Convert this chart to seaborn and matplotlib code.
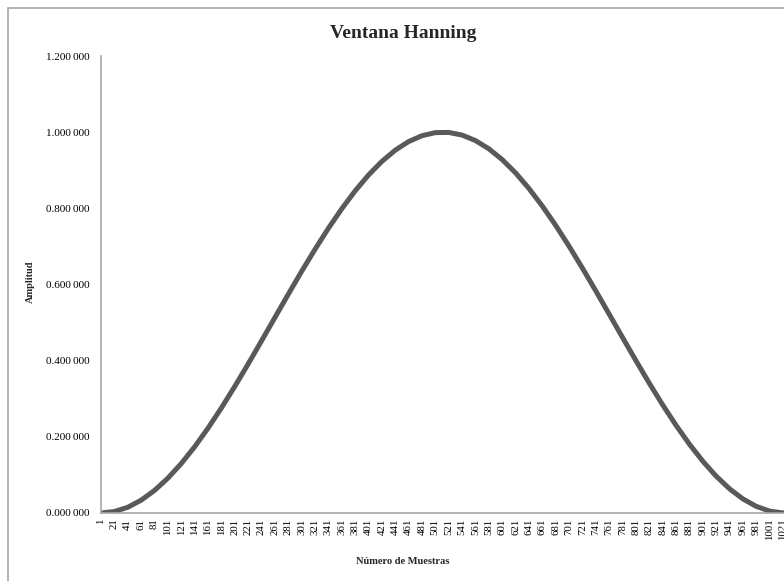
import matplotlib
matplotlib.use("Agg")
import matplotlib.pyplot as plt
import matplotlib.patches as mpatches
from matplotlib.ticker import FuncFormatter, FixedLocator
import seaborn as sns
import pandas as pd

# Data (sample number vs amplitude)
muestras = [1, 21, 41, 61, 81, 101, 121, 141, 161, 181, 201, 221, 241, 261, 281,
            301, 321, 341, 361, 381, 401, 421, 441, 461, 481, 501, 521, 541, 561,
            581, 601, 621, 641, 661, 681, 701, 721, 741, 761, 781, 801, 821, 841,
            861, 881, 901, 921, 941, 961, 981, 1001, 1021, 1024]
amplitud = [0.0000, 0.0038, 0.0150, 0.0336, 0.0592, 0.0914, 0.1298, 0.1737,
            0.2226, 0.2757, 0.3321, 0.3911, 0.4517, 0.5130, 0.5742, 0.6342,
            0.6922, 0.7473, 0.7987, 0.8456, 0.8873, 0.9231, 0.9526, 0.9752,
            0.9907, 0.9988, 0.9993, 0.9924, 0.9780, 0.9564, 0.9280, 0.8931,
            0.8522, 0.8061, 0.7554, 0.7007, 0.6431, 0.5833, 0.5223, 0.4609,
            0.4002, 0.3409, 0.2840, 0.2304, 0.1808, 0.1361, 0.0968, 0.0636,
            0.0370, 0.0174, 0.0050, 0.0001, 0.0000]
x_tick_labels = [str(v) for v in range(1, 1022, 20)]
y_ticks = [0.0, 0.2, 0.4, 0.6, 0.8, 1.0, 1.2]

sns.set_theme(style="white")
plt.rcParams['font.family'] = ['Liberation Serif', 'DejaVu Serif']

W, H = 784, 581
fig = plt.figure(figsize=(W / 100, H / 100), dpi=100)

# Chart frame
fig.patches.append(mpatches.Rectangle((8 / W, -0.05), 1.2, 1 - 8 / H + 0.05,
                                      transform=fig.transFigure, fill=False,
                                      edgecolor="#A6A6A6", linewidth=1.2))

ax = fig.add_axes([101 / W, 1 - 513 / H, (785 - 101) / W, (513 - 56) / H])
df = pd.DataFrame({"Muestra": muestras, "Amplitud": amplitud})
sns.lineplot(data=df, x="Muestra", y="Amplitud", ax=ax, color="#595959",
             linewidth=3.6, solid_capstyle="butt")

ax.set_xlim(1, 1024)
ax.set_ylim(0, 1.2)
ax.xaxis.set_major_locator(FixedLocator([int(s) for s in x_tick_labels]))
ax.set_xticklabels(x_tick_labels, rotation=90, fontsize=7.8)
ax.set_yticks(y_ticks)
ax.yaxis.set_major_formatter(FuncFormatter(
    lambda v, p: f"{v:.6f}"[:-3] + "\u2009" + f"{v:.6f}"[-3:]))
for lab in ax.get_yticklabels():
    lab.set_fontsize(8)
ax.tick_params(axis="x", length=0, pad=4, colors="black")
ax.tick_params(axis="y", length=0, pad=8, colors="black")

for s in ["top", "right"]:
    ax.spines[s].set_visible(False)
for s in ["left", "bottom"]:
    ax.spines[s].set_color("#A6A6A6")
    ax.spines[s].set_linewidth(1.2)
ax.grid(False)

ax.set_xlabel("")
ax.set_ylabel("")
fig.text(403 / W, 1 - 33 / H, "Ventana Hanning", ha="center", va="center",
         fontsize=14, fontweight="bold")
fig.text(403 / W, 1 - 561 / H, "Número de Muestras", ha="center", va="center",
         fontsize=7.5, fontweight="bold")
fig.text(30 / W, 1 - 282 / H, "Amplitud", ha="center", va="center",
         fontsize=7.5, fontweight="bold", rotation=90)

fig.savefig("out.png", dpi=100)
